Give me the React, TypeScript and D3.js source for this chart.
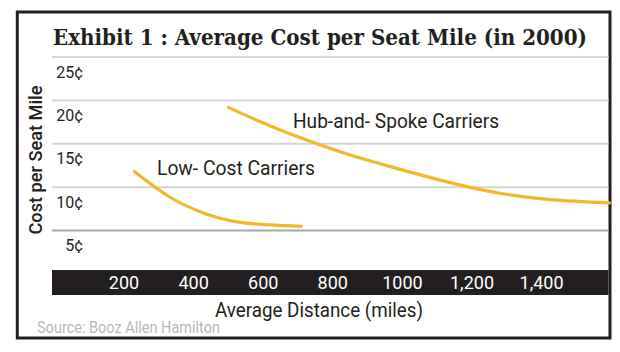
import React, { useEffect, useRef } from "react";
import * as d3 from "d3";

const hubMiles = [500, 600, 700, 850, 1000, 1140, 1280, 1420, 1595];
const hubCost = [19.2, 17.4, 15.8, 13.7, 12.0, 10.5, 9.3, 8.6, 8.2];
const lowMiles = [230, 330, 430, 525, 620, 710];
const lowCost = [11.8, 8.9, 7.0, 6.0, 5.65, 5.5];
const yTicks = [5, 10, 15, 20, 25];
const xTicks = [200, 400, 600, 800, 1000, 1200, 1400];
const xTickLabels = ["200", "400", "600", "800", "1000", "1,200", "1,400"];

const App = () => {
  const ref = useRef<SVGSVGElement>(null);

  useEffect(() => {
    const width = 620;
    const height = 352;
    const ink = "#231f20";
    const gold = "#f1b829";
    const sans = "Roboto, 'Open Sans', sans-serif";

    const svg = d3.select(ref.current);
    svg.selectAll("*").remove();
    svg.attr("width", width).attr("height", height);

    const x = d3.scaleLinear().domain([0, 1600]).range([54.4, 611.2]);
    const y = d3.scaleLinear().domain([0, 25]).range([274, 57]);

    svg.append("rect").attr("width", width).attr("height", height).attr("fill", "#fff");

    // frame
    svg
      .append("rect")
      .attr("x", 17.3)
      .attr("y", 12)
      .attr("width", 592.7)
      .attr("height", 326)
      .attr("fill", "none")
      .attr("stroke", ink)
      .attr("stroke-width", 3);

    // title - condensed slab look
    svg
      .append("text")
      .attr("x", 53)
      .attr("y", 45)
      .attr("font-family", "'DejaVu Serif Condensed', 'DejaVu Serif', serif")
      .attr("font-weight", "bold")
      .attr("font-size", 23)
      .attr("textLength", 534)
      .attr("lengthAdjust", "spacingAndGlyphs")
      .attr("fill", ink)
      .text("Exhibit 1 : Average Cost per Seat Mile (in 2000)");

    // gridlines (top one sits under the title)
    const grid = svg.append("g");
    grid
      .selectAll("line")
      .data(yTicks)
      .enter()
      .append("line")
      .attr("x1", 52)
      .attr("x2", 608.5)
      .attr("y1", (d) => y(d))
      .attr("y2", (d) => y(d))
      .attr("stroke", (d) => (d === 5 ? "#a8a8a8" : "#d6d6d6"))
      .attr("stroke-width", 2);

    grid
      .selectAll("text")
      .data(yTicks)
      .enter()
      .append("text")
      .attr("x", 83)
      .attr("y", (d) => y(d) + 20.5)
      .attr("text-anchor", "end")
      .attr("font-family", sans)
      .attr("font-size", 16)
      .attr("fill", ink)
      .text((d) => d + "¢");

    // y title
    svg
      .append("text")
      .attr("transform", "translate(41.5,160) rotate(-90)")
      .attr("text-anchor", "middle")
      .attr("font-family", sans)
      .attr("font-weight", 500)
      .attr("font-size", 18.5)
      .attr("textLength", 149)
      .attr("lengthAdjust", "spacingAndGlyphs")
      .attr("fill", ink)
      .text("Cost per Seat Mile");

    // black x axis band
    svg
      .append("rect")
      .attr("x", 52)
      .attr("y", 270)
      .attr("width", 608.5 - 52)
      .attr("height", 25)
      .attr("fill", ink);

    svg
      .append("g")
      .selectAll("text")
      .data(xTicks)
      .enter()
      .append("text")
      .attr("x", (d) => x(d))
      .attr("y", 288.5)
      .attr("text-anchor", "middle")
      .attr("font-family", sans)
      .attr("font-size", 18)
      .attr("fill", "#fff")
      .text((d, i) => xTickLabels[i]);

    svg
      .append("text")
      .attr("x", 319)
      .attr("y", 317)
      .attr("text-anchor", "middle")
      .attr("font-family", sans)
      .attr("font-size", 19.5)
      .attr("textLength", 208)
      .attr("lengthAdjust", "spacingAndGlyphs")
      .attr("fill", ink)
      .text("Average Distance (miles)");

    svg
      .append("text")
      .attr("x", 37)
      .attr("y", 333)
      .attr("font-family", sans)
      .attr("font-size", 16)
      .attr("textLength", 183)
      .attr("lengthAdjust", "spacingAndGlyphs")
      .attr("fill", "#b8b8b8")
      .text("Source: Booz Allen Hamilton");

    // curves
    const line = d3
      .line<[number, number]>()
      .x((d) => x(d[0]))
      .y((d) => y(d[1]))
      .curve(d3.curveMonotoneX);

    const series = [
      hubMiles.map((m, i) => [m, hubCost[i]] as [number, number]),
      lowMiles.map((m, i) => [m, lowCost[i]] as [number, number]),
    ];
    svg
      .append("g")
      .selectAll("path")
      .data(series)
      .enter()
      .append("path")
      .attr("d", (d) => line(d))
      .attr("fill", "none")
      .attr("stroke", gold)
      .attr("stroke-width", 3.2)
      .attr("stroke-linecap", "round");

    // series labels
    svg
      .append("text")
      .attr("x", 293)
      .attr("y", 128.3)
      .attr("font-family", sans)
      .attr("font-size", 19.5)
      .attr("textLength", 206)
      .attr("lengthAdjust", "spacingAndGlyphs")
      .attr("fill", ink)
      .text("Hub-and- Spoke Carriers");

    svg
      .append("text")
      .attr("x", 157)
      .attr("y", 175)
      .attr("font-family", sans)
      .attr("font-size", 19.5)
      .attr("textLength", 158)
      .attr("lengthAdjust", "spacingAndGlyphs")
      .attr("fill", ink)
      .text("Low- Cost Carriers");
  }, []);

  return (
    <svg
      ref={ref}
      style={{ position: "absolute", left: 0, top: 0, display: "block" }}
    />
  );
};

export default App;
